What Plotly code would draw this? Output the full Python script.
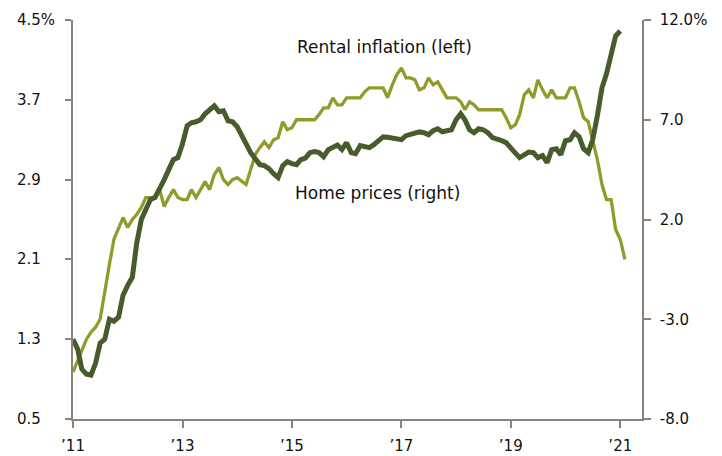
import pandas as pd
import plotly.graph_objects as go

# Rental inflation, % y/y (left axis), monthly from Jan 2011
rental = [0.97, 1.08, 1.2, 1.3, 1.37, 1.42, 1.5, 1.8, 2.05, 2.3, 2.42, 2.52,
          2.42, 2.5, 2.55, 2.62, 2.72, 2.72, 2.72, 2.8, 2.63, 2.72, 2.8, 2.72,
          2.7, 2.7, 2.8, 2.72, 2.8, 2.88, 2.8, 2.95, 3.02, 2.9, 2.85, 2.9,
          2.92, 2.88, 2.85, 3.0, 3.15, 3.22, 3.28, 3.22, 3.3, 3.32, 3.48, 3.4,
          3.42, 3.5, 3.5, 3.5, 3.5, 3.5, 3.55, 3.62, 3.62, 3.72, 3.65, 3.65,
          3.72, 3.72, 3.72, 3.72, 3.78, 3.82, 3.82, 3.82, 3.82, 3.72, 3.85, 3.95,
          4.02, 3.92, 3.92, 3.9, 3.8, 3.82, 3.92, 3.85, 3.88, 3.8, 3.72, 3.72,
          3.72, 3.68, 3.6, 3.68, 3.65, 3.6, 3.6, 3.6, 3.6, 3.6, 3.6, 3.52,
          3.42, 3.45, 3.55, 3.75, 3.8, 3.72, 3.9, 3.8, 3.72, 3.8, 3.72, 3.72,
          3.72, 3.82, 3.82, 3.68, 3.52, 3.48, 3.28, 3.1, 2.85, 2.7, 2.7, 2.4,
          2.3, 2.1]

# Home prices, % y/y (right axis), monthly from Jan 2011
home = [-4.0, -4.5, -5.5, -5.75, -5.8, -5.2, -4.2, -4.0, -3.0, -3.1, -2.9, -1.8,
        -1.3, -0.9, 0.8, 2.0, 2.5, 3.0, 3.1, 3.5, 4.0, 4.5, 5.0, 5.1,
        5.8, 6.7, 6.85, 6.9, 7.0, 7.3, 7.5, 7.7, 7.4, 7.45, 6.95, 6.9,
        6.65, 6.25, 5.8, 5.35, 5.0, 4.75, 4.7, 4.55, 4.3, 4.1, 4.7, 4.9,
        4.8, 4.75, 5.0, 5.08, 5.35, 5.4, 5.35, 5.15, 5.5, 5.65, 5.73, 5.5,
        5.85, 5.35, 5.3, 5.7, 5.65, 5.6, 5.75, 5.95, 6.14, 6.12, 6.1, 6.05,
        6.0, 6.2, 6.24, 6.3, 6.39, 6.35, 6.25, 6.45, 6.55, 6.4, 6.45, 6.5,
        7.0, 7.3, 7.0, 6.5, 6.35, 6.55, 6.5, 6.35, 6.1, 6.05, 5.95, 5.85,
        5.55, 5.33, 5.1, 5.25, 5.38, 5.35, 5.1, 5.2, 4.85, 5.5, 5.55, 5.25,
        5.95, 6.0, 6.35, 6.15, 5.55, 5.35, 6.0, 7.2, 8.6, 9.3, 10.3, 11.2,
        11.45]

left_ticks = [0.5, 1.3, 2.1, 2.9, 3.7, 4.5]
left_text = ["0.5", "1.3", "2.1", "2.9", "3.7", "4.5%"]
right_ticks = [-8, -3, 2, 7, 12]
right_text = ["-8.0", "-3.0", "2.0", "7.0", "12.0%"]
x_ticks = ["2011-01-01", "2013-01-01", "2015-01-01", "2017-01-01", "2019-01-01", "2021-01-01"]
x_text = ["\u201911", "\u201913", "\u201915", "\u201917", "\u201919", "\u201921"]

dates_r = pd.date_range("2011-01-01", periods=len(rental), freq="MS")
dates_h = pd.date_range("2011-01-01", periods=len(home), freq="MS")

LIGHT = "#929b2a"
DARK = "#475c2b"
AXIS = "#8c8279"
FONT = "DejaVu Sans"
TXT = "#111111"

fig = go.Figure()
fig.add_trace(go.Scatter(x=dates_r, y=rental, mode="lines", yaxis="y",
                         line=dict(color=LIGHT, width=3.3), showlegend=False))
fig.add_trace(go.Scatter(x=dates_h, y=home, mode="lines", yaxis="y2",
                         line=dict(color=DARK, width=5), showlegend=False))

# left tick labels are left-aligned in the reference: place them as annotations on the y scale
left_labels = [dict(text=t, x=-0.102, xanchor="left", xref="paper", y=v, yref="y",
                    yanchor="middle", showarrow=False, font=dict(size=15, family=FONT, color=TXT))
               for v, t in zip(left_ticks, left_text)]

fig.update_layout(
    width=714, height=448,
    margin=dict(l=65, r=80, t=12, b=37),
    paper_bgcolor="white", plot_bgcolor="white",
    font=dict(family=FONT, size=15, color=TXT),
    xaxis=dict(type="date", range=["2011-01-01", "2021-05-26"],
               tickvals=x_ticks, ticktext=x_text, automargin=False,
               showgrid=False, zeroline=False,
               showline=True, linecolor=AXIS, linewidth=1.5,
               ticks="outside", ticklen=7, tickcolor=AXIS, tickwidth=1.5,
               ticklabelstandoff=5, tickfont=dict(size=15)),
    yaxis=dict(range=[0.5, 4.5], tickvals=left_ticks, showticklabels=False,
               automargin=False,
               showgrid=False, zeroline=False,
               showline=True, linecolor=AXIS, linewidth=1.5,
               ticks="outside", ticklen=6, tickcolor=AXIS, tickwidth=1.5),
    yaxis2=dict(range=[-8, 12], tickvals=right_ticks, ticktext=right_text,
                overlaying="y", side="right", automargin=False,
                showgrid=False, zeroline=False,
                showline=True, linecolor=AXIS, linewidth=1.5,
                ticks="outside", ticklen=7, tickcolor=AXIS, tickwidth=1.5,
                ticklabelstandoff=6),
    annotations=left_labels + [
        dict(text="Rental inflation (left)", x=0.548, y=4.23, xref="paper", yref="y",
             showarrow=False, font=dict(size=17, family=FONT, color=TXT)),
        dict(text="Home prices (right)", x=0.536, y=2.77, xref="paper", yref="y",
             showarrow=False, font=dict(size=17, family=FONT, color=TXT)),
    ],
)

fig.write_html("out.html")
